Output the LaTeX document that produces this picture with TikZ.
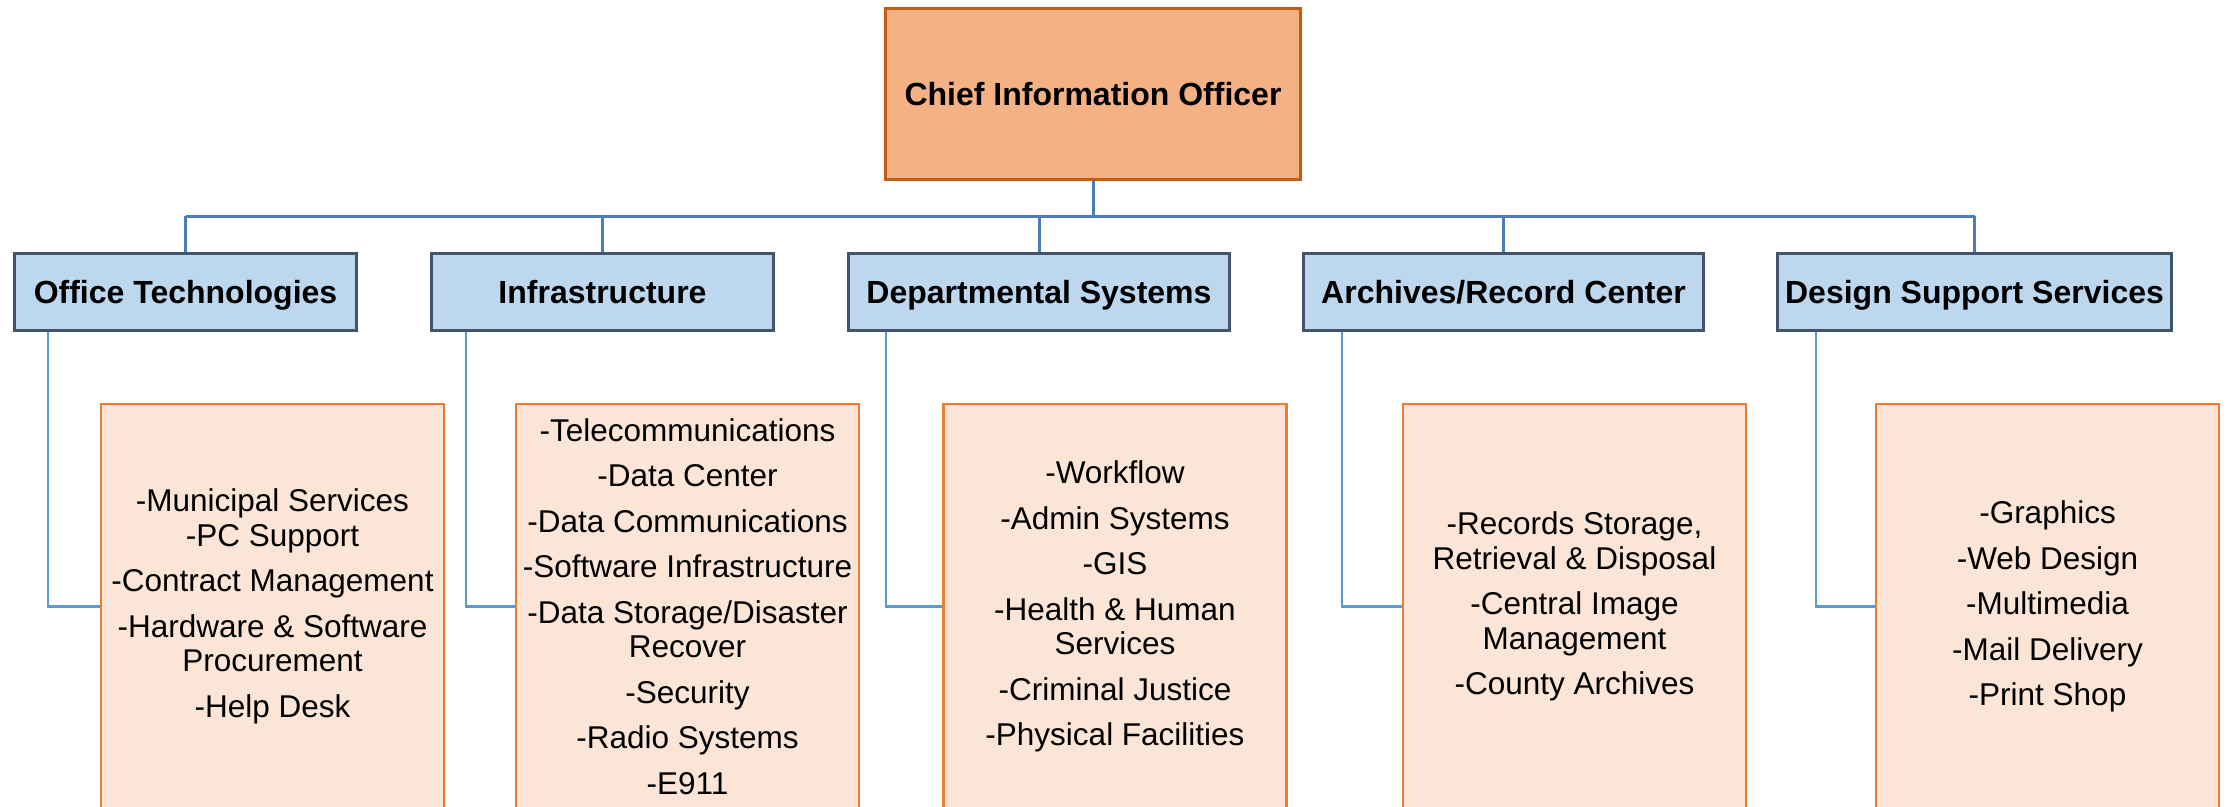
\documentclass[tikz,border=0pt]{standalone}
\usepackage{fontspec}
\setmainfont{Liberation Sans}
\definecolor{cioFill}{HTML}{F4B183}
\definecolor{cioDraw}{HTML}{C55A11}
\definecolor{deptFill}{HTML}{BDD7EE}
\definecolor{deptDraw}{HTML}{44546A}
\definecolor{listFill}{HTML}{FBE5D6}
\definecolor{listDraw}{HTML}{ED7D31}
\definecolor{busBlue}{HTML}{4A7EBB}
\definecolor{childBlue}{HTML}{5B9BD5}
\begin{document}
\begin{tikzpicture}[x=1pt,y=-1pt,
  ciobox/.style={rectangle, draw=cioDraw, fill=cioFill, line width=3pt, inner sep=0pt,
    minimum width=415pt, minimum height=171pt, text height=29pt, text depth=6pt,
    font=\fontsize{32}{36}\selectfont\bfseries},
  deptbox/.style={rectangle, draw=deptDraw, fill=deptFill, line width=3pt, inner sep=0pt,
    minimum height=77pt, text height=28pt, text depth=6pt,
    font=\fontsize{32}{36}\selectfont\bfseries},
  listbox/.style={rectangle, draw=listDraw, fill=listFill, line width=2.6pt, inner sep=0pt,
    minimum width=343pt, minimum height=405pt, align=center,
    font=\fontsize{31.5}{34.5}\selectfont},
  busline/.style={draw=busBlue, line width=3pt},
  childline/.style={draw=childBlue, line width=2.4pt}
]
\useasboundingbox (0,0) rectangle (2226,806);
\fill[white] (0,0) rectangle (2226,806);

% top
\node[ciobox] (cio) at (1093,94) {Chief Information Officer};

% level 2
\node[deptbox, minimum width=342pt] (ot) at (185.5,292) {Office Technologies};
\node[deptbox, minimum width=342pt] (inf) at (602.5,292) {Infrastructure};
\node[deptbox, minimum width=381pt] (ds) at (1039,292) {Departmental Systems};
\node[deptbox, minimum width=400pt] (ar) at (1503.5,292) {Archives/Record Center};
\node[deptbox, minimum width=394pt] (dss) at (1974.5,292) {Design Support Services};

% lists
\node[listbox] (otl) at (272.5,606.5) {-Municipal Services\\-PC Support\\[11pt]-Contract Management\\[11pt]-Hardware \& Software\\Procurement\\[11pt]-Help Desk};
\node[listbox] (infl) at (687.5,606.5) {-Telecommunications\\[11pt]-Data Center\\[11pt]-Data Communications\\[11pt]-Software Infrastructure\\[11pt]-Data Storage/Disaster\\Recover\\[11pt]-Security\\[11pt]-Radio Systems\\[11pt]-E911};
\node[listbox] (dsl) at (1115,606.5) {-Workflow\\[11pt]-Admin Systems\\[11pt]-GIS\\[11pt]-Health \& Human\\Services\\[11pt]-Criminal Justice\\[11pt]-Physical Facilities};
\node[listbox] (arl) at (1574.5,606.5) {-Records Storage,\\Retrieval \& Disposal\\[11pt]-Central Image\\Management\\[11pt]-County Archives};
\node[listbox] (dssl) at (2047.5,606.5) {-Graphics\\[11pt]-Web Design\\[11pt]-Multimedia\\[11pt]-Mail Delivery\\[11pt]-Print Shop};

% bus
\coordinate (bus) at (0,216);
\draw[busline] (cio.south) -- (cio.south |- bus);
\draw[busline] (ot.north |- bus) -- (dss.north |- bus);
\draw[busline] (ot.north) -- (ot.north |- bus);
\draw[busline] (inf.north) -- (inf.north |- bus);
\draw[busline] (ds.north) -- (ds.north |- bus);
\draw[busline] (ar.north) -- (ar.north |- bus);
\draw[busline] (dss.north) -- (dss.north |- bus);

% children
\draw[childline] ([xshift=35pt]ot.south west) |- (otl.west);
\draw[childline] ([xshift=36pt]inf.south west) |- (infl.west);
\draw[childline] ([xshift=39pt]ds.south west) |- (dsl.west);
\draw[childline] ([xshift=40pt]ar.south west) |- (arl.west);
\draw[childline] ([xshift=40pt]dss.south west) |- (dssl.west);
\end{tikzpicture}
\end{document}
